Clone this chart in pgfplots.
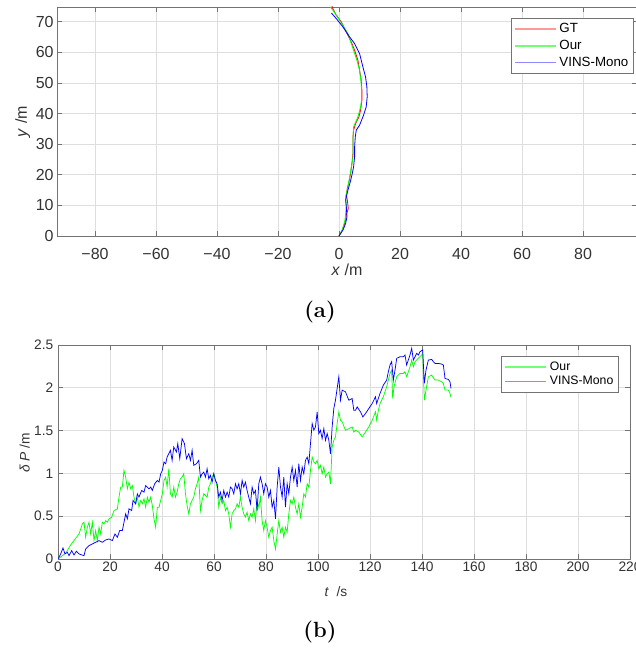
\documentclass[border=0pt]{standalone}
\usepackage{fontspec}
\setsansfont{Liberation Sans}
\usepackage{pgfplots}
\pgfplotsset{compat=1.18}

\definecolor{axgray}{gray}{0.45}
\definecolor{txtgray}{gray}{0.2}
\definecolor{gridgray}{gray}{0.87}
\definecolor{cR}{rgb}{1,0,0}
\definecolor{cG}{rgb}{0,1,0}
\definecolor{cB}{rgb}{0,0,1}
\definecolor{lR}{rgb}{1,0.6,0.6}
\definecolor{lG}{rgb}{0.45,1,0.45}
\definecolor{lB}{rgb}{0.55,0.55,1}

\pgfplotsset{
  mat/.style={
    scale only axis,
    axis line style={axgray, line width=0.6pt},
    every tick/.style={axgray, line width=0.5pt},
    major tick length=4pt,
    tick align=inside,
    grid=major,
    major grid style={gridgray, line width=0.5pt},
    /pgf/number format/assume math mode=true,
    legend cell align=left,
    legend style={draw=axgray, line width=0.5pt, fill=white, inner sep=2pt,
      text=black},
  },
}

\begin{document}
\begin{tikzpicture}
% ---------------- (a) trajectory ----------------
\begin{axis}[mat,
  at={(42.75pt,-5.25pt)}, anchor=north west,
  width=435pt, height=171.75pt,
  xmin=-92.46, xmax=97.7, ymin=0, ymax=74.8,
  xtick={-80,-60,-40,-20,0,20,40,60,80},
  xticklabels={−80,−60,−40,−20,0,20,40,60,80},
  ytick={0,10,20,30,40,50,60,70},
  ticklabel style={font=\fontsize{12}{14}\selectfont\sffamily, text=txtgray},
  xticklabel style={yshift=-6pt},
  yticklabel style={xshift=1pt},
  xlabel={\textit{x} /m},
  ylabel={\textit{y} /m},
  label style={font=\fontsize{12}{14}\selectfont\sffamily, text=txtgray},
  xlabel style={at={(axis description cs:0.5,-0.148)}, anchor=center},
  ylabel style={at={(axis description cs:-0.059,0.5)}, anchor=center, rotate=0},
  legend image code/.code={\draw[#1, line width=1.3pt] (0pt,0pt) -- (31pt,0pt);},
  legend style={at={(1,1)}, anchor=north east, xshift=-2.25pt, yshift=-8.25pt,
    font=\fontsize{10}{13}\selectfont\sffamily, row sep=0pt},
]
\addlegendimage{color=lR}
\addlegendentry{GT}
\addlegendimage{color=lG}
\addlegendentry{Our}
\addlegendimage{color=lB}
\addlegendentry{VINS-Mono}
\addplot[color=cR, line width=0.6pt, forget plot] coordinates {
(0,0) (0.76,1.41) (1.52,3.04) (2.17,5.22) (2.39,6.85) (3.04,9.02) (2.72,11.74)
(2.39,13.37) (2.72,15.54) (3.26,17.72) (3.70,19.89) (4.02,22.07) (4.35,24.78)
(4.57,26.96) (4.57,30.22) (4.57,32.39) (4.78,34.57) (5.43,36.74) (6.52,38.91)
(7.07,41.09) (7.50,44.35) (7.50,47.61) (7.28,50.87) (6.74,54.13) (6.20,57.39)
(5.11,60.65) (4.02,63.37) (2.39,66.63) (0.76,69.89) (-0.87,72.07) (-2.17,74.57)
(-2.5,76)
};
\addplot[color=cG, line width=0.6pt, forget plot] coordinates {
(0,0) (1.09,1.96) (1.96,5.22) (2.39,9.57) (2.17,12.83) (2.93,16.09) (3.70,20.43)
(4.24,23.70) (4.57,25.87) (4.57,31.30) (4.78,35.65) (6.20,38.91) (7.07,42.17)
(7.39,44.35) (7.39,47.61) (7.28,49.78) (6.74,54.13) (5.87,57.39) (4.78,60.65)
(2.93,66.09) (0.22,70.43) (-1.96,73.70) (-2.83,74.78)
};
\addplot[color=cB, line width=0.6pt, forget plot] coordinates {
(0,0) (1.30,1.96) (2.17,4.13) (2.61,6.30) (2.39,9.57) (2.17,11.74) (2.93,15.00)
(3.70,17.72) (4.35,20.43) (4.78,22.61) (5.11,25.87) (5.11,29.13) (5.33,32.39)
(5.65,34.57) (6.74,36.20) (8.04,39.46) (8.91,42.17) (9.24,45.43) (9.13,48.70)
(8.70,51.96) (7.83,55.22) (6.74,59.57) (5.11,62.83) (3.48,65.00) (1.30,68.26)
(-0.87,70.98) (-2.5,72.83)
};
\end{axis}
\node[font=\fontsize{16.5}{18}\selectfont\bfseries] at (240pt,-234pt) {(a)};

% ---------------- (b) error ----------------
\begin{axis}[mat,
  at={(43.5pt,-258.75pt)}, anchor=north west,
  width=429pt, height=160.5pt,
  xmin=0, xmax=220, ymin=0, ymax=2.5,
  xtick={0,20,...,220},
  ytick={0,0.5,1,1.5,2,2.5},
  ticklabel style={font=\fontsize{10.3}{12}\selectfont\sffamily, text=txtgray},
  xticklabel style={yshift=1pt},
  xlabel={\textit{t}\ \ /s},
  ylabel={\textit{δ P} /m},
  label style={font=\fontsize{10.3}{12}\selectfont\sffamily, text=txtgray},
  xlabel style={at={(axis description cs:0.486,-0.154)}, anchor=center},
  ylabel style={at={(axis description cs:-0.058,0.495)}, anchor=center},
  legend image code/.code={\draw[#1, line width=1.3pt] (0pt,0pt) -- (31pt,0pt);},
  legend style={at={(1,1)}, anchor=north east, xshift=-8.25pt, yshift=-8.25pt,
    font=\fontsize{9.2}{11}\selectfont\sffamily, row sep=-1pt},
]
\addlegendimage{color=lG}
\addlegendentry{Our}
\addlegendimage{color=lB}
\addlegendentry{VINS-Mono}
\addplot[color=cG, line width=0.55pt, forget plot] coordinates {
(0,0) (3,0.07) (5,0.17) (6.5,0.23) (8.08,0.293) (9.36,0.41) (10.0,0.43) (10.64,0.254)
(11.28,0.371) (11.92,0.43) (12.56,0.293) (13.21,0.43) (13.85,0.215) (14.49,0.332)
(15.13,0.215) (15.77,0.371) (16.41,0.293) (17.05,0.43) (17.69,0.41) (18.33,0.449)
(18.97,0.43) (19.62,0.469) (20.64,0.488) (21.54,0.566) (22.82,0.586) (23.46,0.723)
(24.1,0.84) (24.74,0.84) (25.38,1.035) (26.03,0.957) (26.67,0.82) (27.31,0.898)
(27.95,0.82) (28.59,0.859) (29.23,0.723) (29.87,0.645) (30.51,0.723) (31.15,0.605)
(31.79,0.684) (32.44,0.645) (33.08,0.703) (33.72,0.605) (34.36,0.723) (35.0,0.664)
(35.64,0.723) (36.28,0.625) (36.92,0.469) (37.56,0.371) (38.21,0.605) (38.85,0.605)
(39.49,0.684) (40.13,0.762) (40.77,0.918) (41.41,0.957)
(41.96,0.84) (42.61,1.055) (43.25,0.762) (43.89,0.723) (44.53,0.84) (45.17,0.723)
(45.81,0.781) (46.45,0.879) (47.09,0.938) (47.73,0.957) (48.37,0.996) (49.02,0.762)
(49.66,0.625) (50.3,0.527) (50.94,0.645) (51.58,0.684) (52.22,0.723) (52.86,0.82)
(53.5,0.879) (54.14,0.957) (54.78,0.566) (55.43,0.684) (56.07,0.762) (57.35,0.723)
(57.99,0.84) (58.63,0.879) (59.27,0.957) (59.91,0.996) (60.55,0.918) (61.19,0.84)
(61.84,0.605) (62.48,0.723) (63.12,0.645) (63.76,0.684) (64.4,0.566) (65.04,0.605)
(65.68,0.527) (66.32,0.371) (66.96,0.527) (67.61,0.566) (68.25,0.586) (68.89,0.645)
(69.53,0.605) (70.17,0.723) (70.81,0.605) (71.45,0.527) (72.09,0.488) (72.73,0.547)
(73.37,0.449) (74.02,0.527) (74.66,0.488) (75.3,0.586) (75.94,0.449) (76.58,0.684)
(77.22,0.605) (77.86,0.723) (78.5,0.449) (79.14,0.332) (79.78,0.449) (80.43,0.371)
(81.07,0.254) (81.71,0.332)
(82.36,0.371) (83.01,0.215) (83.65,0.117) (84.29,0.293) (84.93,0.449) (85.57,0.313)
(86.21,0.371) (86.85,0.254) (87.49,0.371) (88.13,0.313) (88.77,0.527) (89.42,0.684)
(90.06,0.645) (90.7,0.723) (91.34,0.605) (91.98,0.527) (92.62,0.645) (93.26,0.488)
(93.9,0.605) (94.54,0.762) (95.18,0.723) (95.83,0.879) (96.47,0.84) (97.11,1.035)
(97.75,1.191) (98.39,1.133) (99.03,1.113) (99.67,1.152) (100.31,1.055) (100.95,1.094)
(101.59,0.996) (102.24,1.074) (102.88,0.957) (103.52,0.996) (104.16,1.016) (104.8,0.879)
(105.44,1.309) (106.08,1.387) (106.72,1.426) (107.36,1.582) (108.01,1.719) (108.65,1.621)
(109.29,1.602) (110.57,1.504) (111.85,1.523) (113.13,1.543) (113.77,1.484) (114.42,1.504)
(115.7,1.484) (116.98,1.426) (118.26,1.484) (119.54,1.543) (120.83,1.621) (122.11,1.719)
(122.56,1.621) (123.21,1.738) (123.85,1.816) (125.13,1.895) (126.41,2.012) (127.05,2.09)
(127.69,2.168) (128.33,2.207) (128.72,1.875) (129.23,2.012) (130.26,2.129) (131.54,2.168)
(132.82,2.168) (133.46,2.188) (134.1,2.129) (134.74,2.188) (135.38,2.246) (136.03,2.324)
(136.67,2.246) (137.31,2.305) (138.59,2.344) (139.87,2.383) (140.26,2.402) (140.9,1.855)
(141.54,1.973) (142.44,2.129) (143.72,2.148) (145.0,2.09) (146.28,2.09) (147.56,2.07)
(148.21,2.051) (148.85,1.973) (150.13,1.973) (150.77,1.934) (151.15,1.887)
};
\addplot[color=cB, line width=0.55pt, forget plot] coordinates {
(0,0) (1.03,0.059) (1.92,0.129) (2.69,0.059) (3.59,0.078) (4.23,0.039) (5.26,0.098)
(6.15,0.047) (7.05,0.09) (8.08,0.059) (10.0,0.039) (10.64,0.117) (11.92,0.156)
(13.21,0.176) (14.49,0.195) (15.77,0.215) (17.05,0.195) (18.33,0.223) (19.62,0.234)
(20.9,0.215) (21.92,0.293) (22.82,0.254) (23.72,0.332) (24.74,0.332) (25.38,0.43)
(26.03,0.527) (26.67,0.469) (27.31,0.586) (28.33,0.566) (28.85,0.684) (29.87,0.645)
(30.51,0.762) (31.15,0.723) (32.18,0.801) (33.08,0.781) (33.72,0.859) (35.0,0.82)
(35.64,0.84) (36.28,0.801) (37.18,0.879) (38.21,0.918) (38.85,0.898) (39.49,0.996)
(40.13,1.035) (40.77,1.133) (41.41,1.113)
(41.96,1.191) (43.25,1.27) (43.89,1.152) (44.53,1.309) (45.55,1.25) (46.07,1.348)
(46.84,1.172) (47.73,1.406) (48.63,1.348) (49.4,1.172) (50.3,1.23) (50.94,1.152)
(51.58,1.27) (52.22,1.094) (53.25,1.113) (54.14,1.152) (54.78,0.957) (55.43,0.996)
(56.07,1.016) (56.71,0.957) (57.35,1.055) (57.99,0.938) (58.63,0.977) (59.27,0.898)
(59.91,0.996) (60.55,0.918) (61.19,0.879) (61.84,0.723) (62.48,0.781) (63.12,0.684)
(63.76,0.801) (64.4,0.723) (65.04,0.781) (65.68,0.723) (66.32,0.84) (66.96,0.82)
(67.61,0.762) (68.25,0.879) (68.89,0.82) (69.53,0.879) (70.17,0.762) (70.81,0.918)
(71.45,0.84) (72.09,0.898) (72.73,0.801) (73.37,0.723) (74.02,0.645) (74.66,0.84)
(75.3,0.762) (75.94,0.801) (76.58,0.566) (77.22,0.879) (77.86,0.957) (78.5,0.879)
(79.14,0.762) (79.78,0.879) (80.43,0.84) (81.07,0.723) (81.71,0.801)
(82.36,0.605) (83.01,0.684) (83.65,0.469) (84.29,0.84) (84.93,1.074) (85.57,0.84)
(86.21,0.723) (86.85,0.957) (87.49,0.605) (88.13,0.879) (88.77,0.762) (89.42,0.957)
(90.06,1.074) (90.7,0.918) (91.34,1.035) (91.98,0.84) (92.62,1.113) (93.26,0.918)
(93.9,1.074) (94.54,0.996) (95.18,1.152) (95.83,1.191) (96.47,1.113) (97.11,1.348)
(97.75,1.582) (98.39,1.504) (99.03,1.543) (99.67,1.719) (100.31,1.465) (100.95,1.504)
(101.59,1.406) (102.24,1.523) (102.88,1.387) (103.52,1.465) (104.16,1.387) (104.8,1.23)
(105.44,1.543) (106.08,1.758) (106.72,1.855) (107.36,1.992) (108.01,2.129) (108.65,1.855)
(109.29,1.973) (110.57,1.953) (111.85,1.855) (113.13,1.875) (113.77,1.738) (114.42,1.738)
(115.06,1.777) (116.34,1.719) (117.24,1.66) (118.26,1.699) (119.54,1.758) (120.83,1.816)
(122.11,1.895)
(122.56,1.816) (123.85,1.934) (125.13,2.031) (126.41,2.09) (127.05,2.188) (127.69,2.266)
(128.33,2.305) (128.97,2.09) (129.62,2.207) (130.26,2.344) (131.54,2.363) (132.82,2.363)
(133.46,2.383) (134.1,2.266) (134.74,2.324) (135.38,2.383) (136.03,2.461) (136.67,2.324)
(137.31,2.363) (137.95,2.402) (138.59,2.383) (139.23,2.422) (140.26,2.441) (140.9,2.051)
(141.54,2.207) (142.44,2.324) (143.72,2.332) (144.36,2.305) (145.0,2.285) (146.28,2.285)
(147.56,2.277) (148.21,2.266) (148.85,2.109) (150.13,2.098) (150.77,2.07) (151.15,1.992)
};
\end{axis}
\node[font=\fontsize{16.5}{18}\selectfont\bfseries] at (240pt,-474pt) {(b)};

\pgfresetboundingbox
\useasboundingbox (0pt,0pt) rectangle (476.25pt,-486pt);
\end{tikzpicture}
\end{document}
